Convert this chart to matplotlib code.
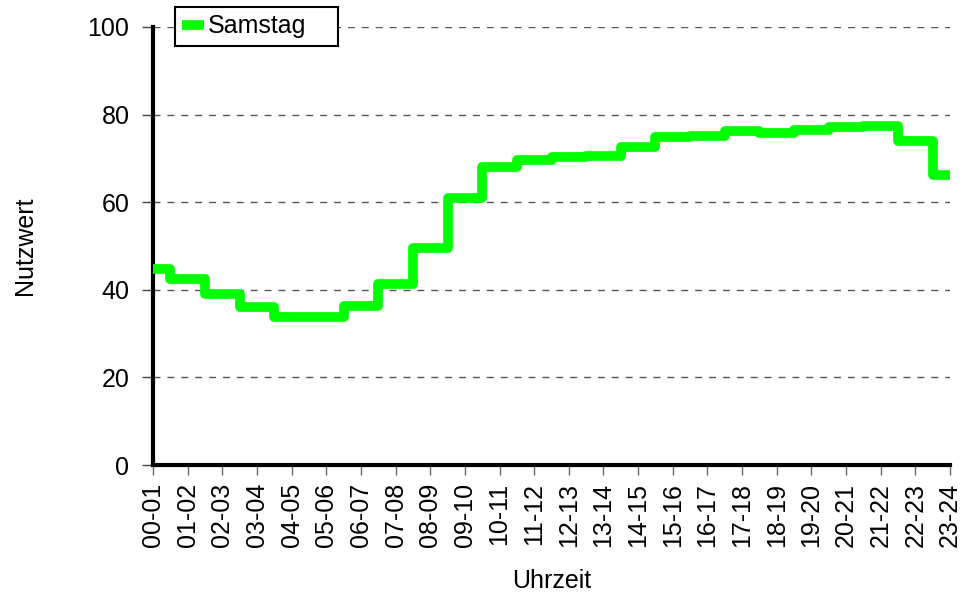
import matplotlib.pyplot as plt
from matplotlib.lines import Line2D

plt.rcParams['font.family'] = ['Liberation Sans', 'DejaVu Sans']

# Stundenintervalle
hours = ['00-01', '01-02', '02-03', '03-04', '04-05', '05-06', '06-07', '07-08',
         '08-09', '09-10', '10-11', '11-12', '12-13', '13-14', '14-15', '15-16',
         '16-17', '17-18', '18-19', '19-20', '20-21', '21-22', '22-23', '23-24']

# Nutzwert am Samstag
samstag = [44.7, 42.5, 39.1, 36.1, 33.8, 33.8, 36.4, 41.3,
           49.5, 61.0, 68.0, 69.7, 70.3, 70.6, 72.6, 74.8,
           75.0, 76.3, 75.7, 76.5, 77.1, 77.4, 74.0, 66.1]

line_color = '#00ff00'

# Create figure
fig = plt.figure(figsize=(9.64, 5.97), dpi=100)
ax = fig.add_axes([0.1587, 0.2211, 0.8268, 0.7337])

x = list(range(len(hours)))
ax.plot(x, samstag, drawstyle='steps-mid', color=line_color, linewidth=7,
        solid_joinstyle='round', solid_capstyle='butt', zorder=3)

# Axes
ax.set_xlim(0, len(hours) - 1)
ax.set_ylim(0, 100)
ax.set_yticks([0, 20, 40, 60, 80, 100])
ax.set_xticks(x)
ax.set_xticklabels(hours, rotation=90, fontsize=18)
ax.tick_params(axis='y', labelsize=18, length=8, width=1, color='#444444',
               direction='out', pad=9)
ax.tick_params(axis='x', length=7, width=1, color='#666666', direction='out', pad=6)

# Grid
ax.yaxis.grid(True, linestyle=(0, (5, 5)), color='#555555', linewidth=1)
ax.set_axisbelow(True)

for side in ['top', 'right']:
    ax.spines[side].set_visible(False)
for side in ['left', 'bottom']:
    ax.spines[side].set_linewidth(3)
    ax.spines[side].set_color('black')

ax.set_xlabel('Uhrzeit', fontsize=18)
ax.set_ylabel('Nutzwert', fontsize=18)
ax.xaxis.set_label_coords(0.5, -0.2374)
ax.yaxis.set_label_coords(-0.1455, 0.5)

# Legend
handle = Line2D([], [], color=line_color, linewidth=7, solid_capstyle='butt')
leg = ax.legend([handle], ['Samstag'], loc='upper left', mode='expand',
                bbox_to_anchor=(0.0276, 0.9635, 0.2045, 0.0822), borderaxespad=0,
                fontsize=18, handlelength=0.88, handletextpad=0.12,
                fancybox=False, framealpha=1, borderpad=0.3)
leg.get_frame().set_edgecolor('black')
leg.get_frame().set_linewidth(1.5)

fig.savefig('out.png', dpi=100)
